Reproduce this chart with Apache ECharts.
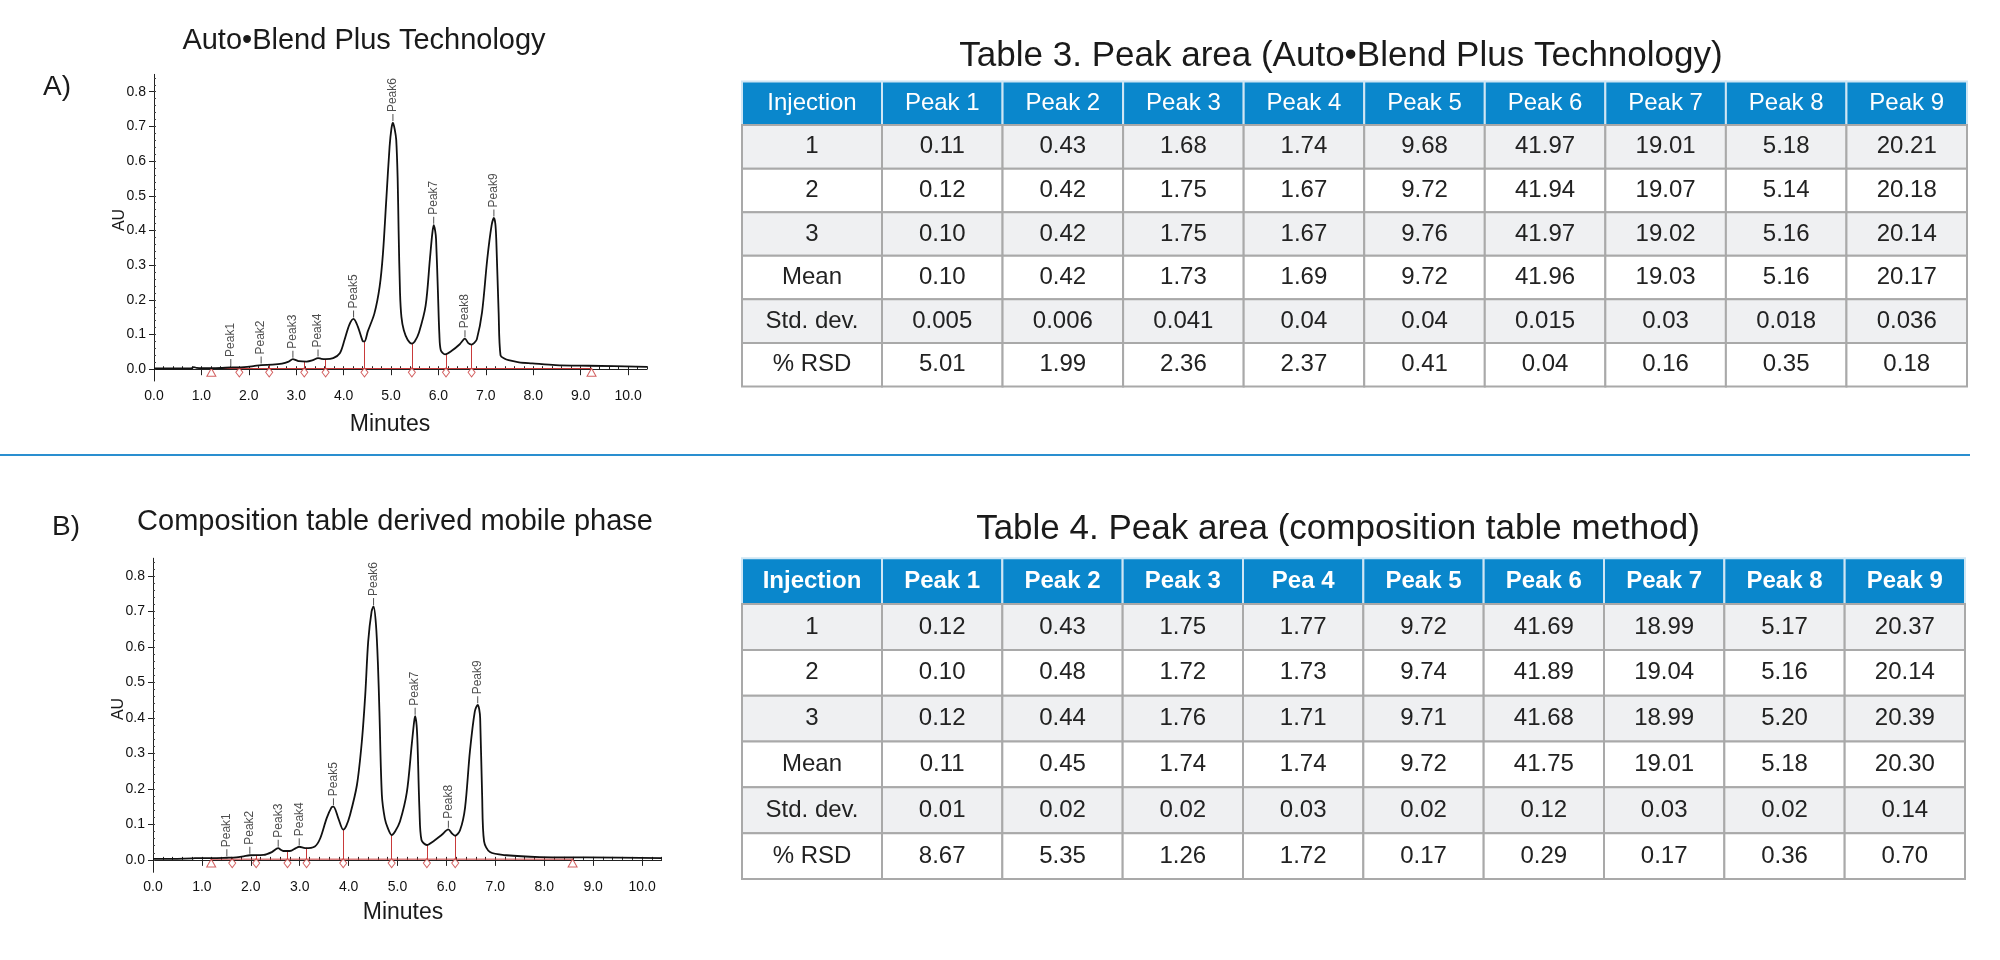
<!DOCTYPE html>
<html><head><meta charset="utf-8">
<script src="https://cdn.jsdelivr.net/npm/echarts@6/dist/echarts.min.js"></script>
<style>html,body{margin:0;padding:0;background:#fff}#c{width:2000px;height:960px}</style>
</head><body><div id="c"></div>
<script>
const FONT = '"Liberation Sans", Arial, Helvetica, sans-serif';

// ---------- Chromatogram A : Auto•Blend Plus Technology  [minutes, AU]
const traceA = [[0.00,0.002],[0.40,0.002],[0.78,0.002],[0.84,0.006],[0.90,0.004],[1.00,0.003],[1.30,0.003],[1.62,0.005],[1.90,0.006],[2.10,0.009],[2.26,0.012],[2.50,0.013],[2.70,0.016],[2.84,0.022],[2.93,0.029],[3.00,0.026],[3.06,0.023],[3.22,0.022],[3.35,0.026],[3.46,0.032],[3.53,0.030],[3.62,0.029],[3.78,0.032],[3.92,0.046],[4.02,0.085],[4.12,0.128],[4.21,0.145],[4.30,0.123],[4.40,0.082],[4.44,0.080],[4.51,0.109],[4.65,0.161],[4.76,0.238],[4.83,0.334],[4.90,0.488],[4.97,0.642],[5.01,0.695],[5.04,0.711],[5.08,0.690],[5.11,0.661],[5.14,0.550],[5.16,0.400],[5.19,0.220],[5.22,0.150],[5.27,0.112],[5.35,0.085],[5.44,0.074],[5.50,0.080],[5.59,0.106],[5.73,0.183],[5.82,0.317],[5.87,0.390],[5.90,0.415],[5.93,0.400],[5.95,0.375],[5.99,0.221],[6.02,0.100],[6.05,0.055],[6.14,0.043],[6.28,0.053],[6.45,0.072],[6.56,0.088],[6.63,0.075],[6.70,0.071],[6.75,0.075],[6.81,0.086],[6.92,0.164],[7.03,0.317],[7.12,0.413],[7.17,0.436],[7.20,0.420],[7.22,0.375],[7.27,0.164],[7.31,0.040],[7.40,0.030],[7.48,0.026],[7.70,0.020],[7.98,0.017],[8.47,0.012],[9.17,0.010],[10.40,0.007]];
const apexA = [[1.62,0.005],[2.26,0.012],[2.93,0.029],[3.46,0.032],[4.21,0.145],[5.04,0.711],[5.90,0.415],[6.56,0.088],[7.17,0.436]];
const valleysA = [[1.80,0.006],[2.43,0.013],[3.17,0.023],[3.62,0.029],[4.44,0.080],[5.44,0.074],[6.16,0.044],[6.70,0.071]];
const limitsA = [1.21, 9.23];

// ---------- Chromatogram B : Composition table derived mobile phase
const traceB = [[0.00,0.003],[0.50,0.003],[0.80,0.004],[0.85,0.005],[1.20,0.005],[1.51,0.006],[1.70,0.007],[1.85,0.010],[1.98,0.013],[2.26,0.014],[2.43,0.022],[2.56,0.033],[2.62,0.028],[2.67,0.025],[2.80,0.025],[2.92,0.033],[2.99,0.037],[3.11,0.033],[3.31,0.038],[3.42,0.061],[3.55,0.117],[3.65,0.148],[3.69,0.150],[3.79,0.117],[3.89,0.085],[3.95,0.095],[4.03,0.127],[4.17,0.211],[4.27,0.333],[4.34,0.465],[4.40,0.615],[4.47,0.700],[4.51,0.714],[4.56,0.662],[4.60,0.550],[4.63,0.418],[4.68,0.183],[4.74,0.117],[4.80,0.090],[4.88,0.070],[4.95,0.080],[5.05,0.108],[5.19,0.190],[5.29,0.324],[5.34,0.390],[5.36,0.405],[5.39,0.380],[5.41,0.324],[5.45,0.136],[5.49,0.056],[5.60,0.042],[5.73,0.052],[5.90,0.070],[6.04,0.086],[6.11,0.075],[6.18,0.068],[6.28,0.084],[6.38,0.146],[6.48,0.305],[6.58,0.418],[6.64,0.437],[6.67,0.425],[6.69,0.399],[6.73,0.183],[6.77,0.052],[6.89,0.022],[7.23,0.013],[7.91,0.008],[8.87,0.007],[10.40,0.005]];
const apexB = [[1.51,0.006],[1.98,0.013],[2.56,0.033],[2.99,0.037],[3.69,0.150],[4.51,0.714],[5.36,0.405],[6.04,0.086],[6.64,0.437]];
const valleysB = [[1.62,0.006],[2.11,0.013],[2.75,0.025],[3.14,0.034],[3.89,0.085],[4.88,0.070],[5.60,0.042],[6.18,0.068]];
const limitsB = [1.19, 8.58];

const peakNames = ['Peak1','Peak2','Peak3','Peak4','Peak5','Peak6','Peak7','Peak8','Peak9'];
const xTicks = [0,1,2,3,4,5,6,7,8,9,10];
const yTicks = [0,0.1,0.2,0.3,0.4,0.5,0.6,0.7,0.8];

// ---------- Tables
const rowLabels = ['1','2','3','Mean','Std. dev.','% RSD'];
const headers3 = ['Peak 1','Peak 2','Peak 3','Peak 4','Peak 5','Peak 6','Peak 7','Peak 8','Peak 9'];
const table3 = [
  ['0.11','0.43','1.68','1.74','9.68','41.97','19.01','5.18','20.21'],
  ['0.12','0.42','1.75','1.67','9.72','41.94','19.07','5.14','20.18'],
  ['0.10','0.42','1.75','1.67','9.76','41.97','19.02','5.16','20.14'],
  ['0.10','0.42','1.73','1.69','9.72','41.96','19.03','5.16','20.17'],
  ['0.005','0.006','0.041','0.04','0.04','0.015','0.03','0.018','0.036'],
  ['5.01','1.99','2.36','2.37','0.41','0.04','0.16','0.35','0.18']
];
const headers4 = ['Peak 1','Peak 2','Peak 3','Pea 4','Peak 5','Peak 6','Peak 7','Peak 8','Peak 9'];
const table4 = [
  ['0.12','0.43','1.75','1.77','9.72','41.69','18.99','5.17','20.37'],
  ['0.10','0.48','1.72','1.73','9.74','41.89','19.04','5.16','20.14'],
  ['0.12','0.44','1.76','1.71','9.71','41.68','18.99','5.20','20.39'],
  ['0.11','0.45','1.74','1.74','9.72','41.75','19.01','5.18','20.30'],
  ['0.01','0.02','0.02','0.03','0.02','0.12','0.03','0.02','0.14'],
  ['8.67','5.35','1.26','1.72','0.17','0.29','0.17','0.36','0.70']
];

// ---------- styling constants
const RED = '#c83a3a';
const BASE_Y = 0.002, MARK_Y = -0.009;
const HEAD_BG = '#0a87cc', ODD_BG = '#eff0f2', GRID_LINE = '#a9a9a9', HEAD_LINE = '#cfe6f4';

const chart = echarts.init(document.getElementById('c'), null, {renderer:'canvas'});

function rng(a, b, step){ const o=[]; for(let i=0;a+i*step<=b+1e-9;i++) o.push(+(a+i*step).toFixed(4)); return o; }

function chromAxes(k, xmax, ymin){
  const common = {gridIndex:k, type:'value', min:0, max:xmax, splitLine:{show:false}};
  const x = [
    Object.assign({}, common, {
      axisLine:{show:true, lineStyle:{color:'#222', width:1}},
      axisTick:{show:true, length:6, customValues:xTicks, lineStyle:{color:'#222'}},
      axisLabel:{show:true, customValues:xTicks, formatter:v=>v.toFixed(1), fontSize:14, color:'#111', fontFamily:FONT, margin:8}
    }),
    Object.assign({}, common, {
      axisLine:{show:false}, axisLabel:{show:false},
      axisTick:{show:true, length:3, customValues:rng(0,xmax,0.2), lineStyle:{color:'#222'}}
    })
  ];
  const ycommon = {gridIndex:k, type:'value', min:ymin, max:0.85, splitLine:{show:false}};
  const y = [
    Object.assign({}, ycommon, {
      axisLine:{show:true, lineStyle:{color:'#222', width:1}},
      axisTick:{show:true, length:5, customValues:yTicks, lineStyle:{color:'#222'}},
      axisLabel:{show:true, customValues:yTicks, formatter:v=>v.toFixed(1), fontSize:14, color:'#111', fontFamily:FONT, margin:8}
    }),
    Object.assign({}, ycommon, {
      axisLine:{show:false}, axisLabel:{show:false},
      axisTick:{show:true, length:2, customValues:rng(0,0.84,0.02), lineStyle:{color:'#444'}}
    })
  ];
  return {x, y};
}

function chromSeries(k, trace, apex, valleys, limits){
  const ax = {xAxisIndex:2*k, yAxisIndex:2*k};
  return [
    Object.assign({type:'line', data:trace, showSymbol:false, smooth:0.3, lineStyle:{color:'#111', width:1.8}, z:5, silent:true}, ax),
    Object.assign({type:'line', data:[[limits[0],BASE_Y],[limits[1],BASE_Y]], showSymbol:false, silent:true,
      lineStyle:{color:RED, width:1}, z:3,
      markLine:{silent:true, symbol:['none','none'], label:{show:false}, animation:false,
        lineStyle:{color:RED, width:1, type:'solid'},
        data: valleys.map(v=>[{coord:[v[0],BASE_Y]},{coord:[v[0],v[1]]}])}}, ax),
    Object.assign({type:'scatter', data:valleys.map(v=>[v[0],MARK_Y]), symbol:'diamond', symbolSize:[7,9], silent:true,
      itemStyle:{color:'#fff', borderColor:RED, borderWidth:1}, z:4}, ax),
    Object.assign({type:'scatter', data:limits.map(t=>[t,MARK_Y]), symbol:'triangle', symbolSize:[9,8], silent:true,
      itemStyle:{color:'#fff', borderColor:RED, borderWidth:1}, z:4}, ax),
    Object.assign({type:'scatter', data:apex.map((p,i)=>({name:peakNames[i], value:p})), symbol:'rect', symbolSize:[1,7], symbolOffset:[0,-5],
      itemStyle:{color:'#222'}, silent:true, z:6,
      label:{show:true, formatter:'{b}', position:'top', distance:2, rotate:90, align:'left', verticalAlign:'middle',
        fontSize:12, color:'#222', fontFamily:FONT}}, ax)
  ];
}

function buildCells(headers, rows, values){
  const left = [], right = [];
  left.push({v:[0,0], text:'Injection', row:0});
  rows.forEach((r,i)=>left.push({v:[0,i+1], text:r, row:i+1}));
  headers.forEach((h,c)=>right.push({v:[c,0], text:h, row:0}));
  values.forEach((rv,i)=>rv.forEach((t,c)=>right.push({v:[c,i+1], text:t, row:i+1})));
  return {left, right};
}

function tableSeries(cells, xi, bold){
  return {
    type:'custom', xAxisIndex:xi, yAxisIndex:xi, silent:true, clip:false,
    data: cells.map(c=>c.v),
    renderItem:function(params, api){
      const cell = cells[params.dataIndex];
      const p = api.coord([api.value(0), api.value(1)]);
      const s = api.size([1,1]);
      const head = cell.row === 0;
      const fill = head ? HEAD_BG : (cell.row % 2 === 1 ? ODD_BG : '#ffffff');
      return {type:'group', children:[
        {type:'rect', shape:{x:p[0]-s[0]/2, y:p[1]-s[1]/2, width:s[0], height:s[1]},
          style:{fill:fill, stroke: head ? HEAD_LINE : GRID_LINE, lineWidth:2}},
        {type:'text', x:p[0], y:p[1], style:{text:cell.text, fill: head ? '#ffffff' : '#222',
          font: (head && bold ? 'bold ' : '') + '24px ' + FONT, align:'center', verticalAlign:'middle'}}
      ]};
    }
  };
}

const axA = chromAxes(0, 10.4, -0.034);
const axB = chromAxes(1, 10.4, -0.035);
const c3 = buildCells(headers3, rowLabels, table3);
const c4 = buildCells(headers4, rowLabels, table4);

const tabAxisX = (gi, data)=>({type:'category', gridIndex:gi, data:data, show:false, boundaryGap:true});
const tabAxisY = (gi)=>({type:'category', gridIndex:gi, data:[0,1,2,3,4,5,6], show:false, inverse:true, boundaryGap:true});

const g = (l,t,w,h)=>({left:l, top:t, width:w, height:h, containLabel:false, outerBoundsMode:'none'});

const txt = (x, y, text, size, extra)=>Object.assign({type:'text', x:x, y:y, silent:true,
  style:{text:text, font: size+'px '+FONT, fill:'#1a1a1a', align:'center', verticalAlign:'middle'}}, extra||{});

chart.setOption({
  animation:false,
  backgroundColor:'#ffffff',
  grid:[ g(154,74.35,493,306.65), g(153,558.25,508.6,314.05),
         g(742,81.5,140,305), g(882,81.5,1085,305),
         g(742,558.3,140,320.7), g(882,558.3,1083,320.7) ],
  xAxis:[ axA.x[0], axA.x[1], axB.x[0], axB.x[1],
          tabAxisX(2,['Injection']), tabAxisX(3,headers3), tabAxisX(4,['Injection']), tabAxisX(5,headers4) ],
  yAxis:[ axA.y[0], axA.y[1], axB.y[0], axB.y[1], tabAxisY(2), tabAxisY(3), tabAxisY(4), tabAxisY(5) ],
  series:[].concat(
    chromSeries(0, traceA, apexA, valleysA, limitsA),
    chromSeries(1, traceB, apexB, valleysB, limitsB),
    [tableSeries(c3.left,4,false), tableSeries(c3.right,5,false), tableSeries(c4.left,6,true), tableSeries(c4.right,7,true)]
  ),
  graphic:[
    txt(364,41,'Auto\u2022Blend Plus Technology',29),
    txt(57,87,'A)',28),
    txt(120,220,'AU',16,{rotation:Math.PI/2}),
    txt(390,425,'Minutes',23),
    txt(395,522,'Composition table derived mobile phase',29),
    txt(66,527,'B)',28),
    txt(119,709,'AU',16,{rotation:Math.PI/2}),
    txt(403,913,'Minutes',23),
    txt(1341,56,'Table 3. Peak area (Auto\u2022Blend Plus Technology)',35),
    txt(1338,529,'Table 4. Peak area (composition table method)',35),
    {type:'line', silent:true, shape:{x1:0,y1:455,x2:1970,y2:455}, style:{stroke:'#2a8fd0', lineWidth:2}}
  ]
});
</script></body></html>
